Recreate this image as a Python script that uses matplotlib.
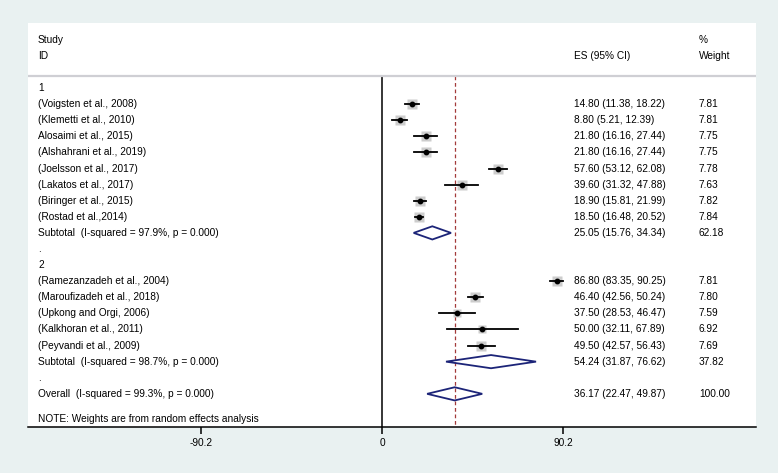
import matplotlib
matplotlib.use('Agg')
import matplotlib.pyplot as plt
from matplotlib.patches import Polygon

plt.rcParams['font.family'] = ['Liberation Sans', 'DejaVu Sans']

# study level data
studies_1 = ['(Voigsten et al., 2008)', '(Klemetti et al., 2010)', 'Alosaimi et al., 2015)',
             '(Alshahrani et al., 2019)', '(Joelsson et al., 2017)', '(Lakatos et al., 2017)',
             '(Biringer et al., 2015)', '(Rostad et al.,2014)']
es_1 = [14.80, 8.80, 21.80, 21.80, 57.60, 39.60, 18.90, 18.50]
lo_1 = [11.38, 5.21, 16.16, 16.16, 53.12, 31.32, 15.81, 16.48]
hi_1 = [18.22, 12.39, 27.44, 27.44, 62.08, 47.88, 21.99, 20.52]
wt_1 = [7.81, 7.81, 7.75, 7.75, 7.78, 7.63, 7.82, 7.84]

studies_2 = ['(Ramezanzadeh et al., 2004)', '(Maroufizadeh et al., 2018)', '(Upkong and Orgi, 2006)',
             '(Kalkhoran et al., 2011)', '(Peyvandi et al., 2009)']
es_2 = [86.80, 46.40, 37.50, 50.00, 49.50]
lo_2 = [83.35, 42.56, 28.53, 32.11, 42.57]
hi_2 = [90.25, 50.24, 46.47, 67.89, 56.43]
wt_2 = [7.81, 7.80, 7.59, 6.92, 7.69]

# pooled estimates: subtotal 1, subtotal 2, overall
pooled_labels = ['Subtotal  (I-squared = 97.9%, p = 0.000)',
                 'Subtotal  (I-squared = 98.7%, p = 0.000)',
                 'Overall  (I-squared = 99.3%, p = 0.000)']
pooled_es = [25.05, 54.24, 36.17]
pooled_lo = [15.76, 31.87, 22.47]
pooled_hi = [34.34, 76.62, 49.87]
pooled_wt = [62.18, 37.82, 100.00]

xticks = [-90.2, 0, 90.2]

bg = '#e9f1f1'
navy = '#1c2478'
fs = 7.3

fig = plt.figure(figsize=(7.78, 4.73), dpi=100, facecolor=bg)
# panel spans px x 28..756, y 23..427
ax = fig.add_axes([28 / 778, 1 - 427 / 473, 728 / 778, 404 / 473])
ax.set_facecolor('white')
ax.set_xlim(-176, 186)
ax.set_ylim(21.06, -4.04)

# build rows
rows = []
rows.append(('head', '1'))
for i in range(len(studies_1)):
    rows.append(('study', studies_1[i], es_1[i], lo_1[i], hi_1[i], wt_1[i]))
rows.append(('pool', 0))
rows.append(('head', '.'))
rows.append(('head', '2'))
for i in range(len(studies_2)):
    rows.append(('study', studies_2[i], es_2[i], lo_2[i], hi_2[i], wt_2[i]))
rows.append(('pool', 1))
rows.append(('head', '.'))
rows.append(('pool', 2))

tx = ax.get_yaxis_transform()
xl, xes, xw = 0.0137, 0.75, 0.9217

for y, r in enumerate(rows):
    if r[0] == 'head':
        ax.text(xl, y, r[1], transform=tx, fontsize=fs, va='center')
    elif r[0] == 'study':
        _, name, e, lo, hi, w = r
        ax.plot([lo, hi], [y, y], color='black', lw=1.3, zorder=3)
        ax.plot(e, y, marker='s', ms=w * 0.85, color='#cdcdcd', mec='none', zorder=2)
        ax.plot(e, y, marker='o', ms=3.2, color='black', zorder=4)
        ax.text(xl, y, name, transform=tx, fontsize=fs, va='center')
        ax.text(xes, y, '%.2f (%.2f, %.2f)' % (e, lo, hi), transform=tx, fontsize=fs, va='center')
        ax.text(xw, y, '%.2f' % w, transform=tx, fontsize=fs, va='center')
    else:
        k = r[1]
        e, lo, hi = pooled_es[k], pooled_lo[k], pooled_hi[k]
        h = 0.41
        ax.add_patch(Polygon([[lo, y], [e, y - h], [hi, y], [e, y + h]], closed=True,
                             fill=False, ec=navy, lw=1.3, zorder=3))
        ax.text(xl, y, pooled_labels[k], transform=tx, fontsize=fs, va='center')
        ax.text(xes, y, '%.2f (%.2f, %.2f)' % (e, lo, hi), transform=tx, fontsize=fs, va='center')
        ax.text(xw, y, '%.2f' % pooled_wt[k], transform=tx, fontsize=fs, va='center')

# header
ax.text(xl, -2.98, 'Study', transform=tx, fontsize=fs, va='center')
ax.text(xl, -1.99, 'ID', transform=tx, fontsize=fs, va='center')
ax.text(xes, -1.99, 'ES (95% CI)', transform=tx, fontsize=fs, va='center')
ax.text(xw, -2.98, '%', transform=tx, fontsize=fs, va='center')
ax.text(xw, -1.99, 'Weight', transform=tx, fontsize=fs, va='center')
ax.axhline(-0.75, color='#cfcfd4', lw=1.6)
ax.text(xl, 20.56, 'NOTE: Weights are from random effects analysis', transform=tx,
        fontsize=fs, va='center')

# null line and overall line
ax.plot([0, 0], [-0.75, 21.06], color='black', lw=1.1, zorder=1)
ax.plot([pooled_es[2], pooled_es[2]], [-0.75, 21.06], color='#a33a3a', lw=0.9,
        ls=(0, (3, 2.2)), zorder=1)

for s in ['top', 'left', 'right']:
    ax.spines[s].set_visible(False)
ax.spines['bottom'].set_linewidth(1.1)
ax.set_yticks([])
ax.set_xticks(xticks)
ax.set_xticklabels(['-90.2', '0', '90.2'])
ax.tick_params(axis='x', direction='out', length=5, width=1.1, labelsize=fs, pad=3)

fig.savefig('out.png', dpi=100, facecolor=bg)
